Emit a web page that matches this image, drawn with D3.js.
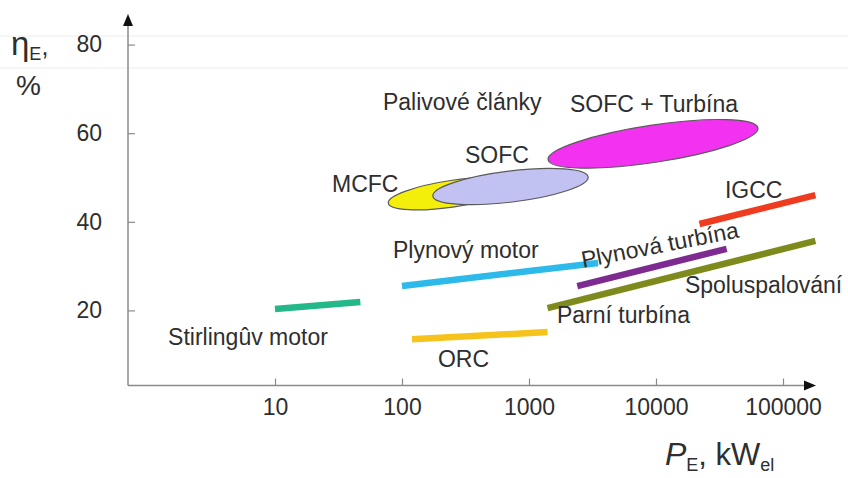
<!DOCTYPE html>
<html><head><meta charset="utf-8">
<script src="https://cdn.jsdelivr.net/npm/d3@7"></script>
<style>
body{margin:0;background:#fff;}
text{font-family:"Liberation Sans",Arial,sans-serif;fill:#2e2e2e;}
</style>
</head><body>
<svg id="c" width="848" height="478"></svg>
<script>
// ---- data ----
const xTicks = [10, 100, 1000, 10000, 100000];
const yTicks = [20, 40, 60, 80];

const lineNames  = ["Stirlingûv motor", "Plynový motor", "ORC", "Plynová turbína", "Parní turbína", "IGCC"];
const lineX0     = [10, 100, 120, 2400, 1400, 22000];
const lineX1     = [47, 3500, 1400, 36000, 180000, 180000];
const lineY0     = [20.3, 25.5, 13.5, 25.5, 20.5, 39.5];
const lineY1     = [21.9, 30.7, 15.1, 33.9, 35.7, 46.0];
const lineColors = ["#22b889", "#2db9ea", "#f6c21c", "#7d2b90", "#7f8a1c", "#ef3b20"];

const cellNames  = ["SOFC + Turbína", "MCFC", "SOFC"];
const cellXMin   = [1413, 78, 175];
const cellXMax   = [63500, 800, 2920];
const cellYLeft  = [54.0, 44.2, 45.8];
const cellYRight = [61.2, 48.5, 50.1];
const cellThick  = [8.4, 6.0, 7.0];
const cellColors = ["#f232f0", "#f4ef0a", "#c2c2f2"];

const labelText = ["Palivové články", "SOFC + Turbína", "SOFC", "MCFC", "IGCC", "Plynová turbína",
                   "Plynový motor", "Spoluspalování", "Parní turbína", "Stirlingûv motor", "ORC"];
const labelX    = [70.8, 2100, 313, 28.1, 34900, 2660, 84.9, 16900, 1660, 1.44, 192];
const labelY    = [65.2, 64.8, 53.3, 46.7, 45.4, 29.6, 31.8, 23.9, 17.2, 12.2, 7.2];
const labelRot  = [0, 0, 0, 0, 0, -11, 0, 0, 0, 0, 0];

// ---- layout ----
const svg = d3.select("#c");
const axisX0 = 128, axisY0 = 385.5;
const x = d3.scaleLog().domain([10, 100000]).range([275, 783]);
const y = d3.scaleLinear().domain([20, 80]).range([310.4, 44.6]);
const FS = 23;

// faint scan lines
[36, 68].forEach(v => svg.append("line").attr("x1", 0).attr("x2", 848).attr("y1", v).attr("y2", v)
  .attr("stroke", "#ececec").attr("stroke-width", 1));

// axes lines with arrows
const axisColor = "#8a8a8a";
svg.append("line").attr("x1", axisX0).attr("x2", axisX0).attr("y1", axisY0).attr("y2", 22)
  .attr("stroke", axisColor).attr("stroke-width", 1.5);
svg.append("path").attr("d", `M${axisX0},14 L${axisX0-5},26 L${axisX0+5},26 Z`).attr("fill", "#111");
svg.append("line").attr("x1", axisX0).attr("x2", 808).attr("y1", axisY0).attr("y2", axisY0)
  .attr("stroke", axisColor).attr("stroke-width", 1.5);
svg.append("path").attr("d", `M816,${axisY0} L804,${axisY0-5} L804,${axisY0+5} Z`).attr("fill", "#111");

// x axis ticks/labels
const gx = svg.append("g").attr("transform", `translate(0,${axisY0})`)
  .call(d3.axisBottom(x).tickValues(xTicks).tickFormat(d3.format("d")).tickSizeInner(-7).tickSizeOuter(0).tickPadding(13));
gx.select(".domain").remove();
gx.selectAll(".tick line").attr("stroke", axisColor).attr("stroke-width", 1.2);
gx.selectAll(".tick text").attr("font-size", FS).attr("fill", "#2e2e2e")
  .style("font-family", '"Liberation Sans",Arial,sans-serif');

// y axis ticks/labels
const gy = svg.append("g").attr("transform", `translate(${axisX0},0)`)
  .call(d3.axisLeft(y).tickValues(yTicks).tickSizeInner(-7).tickSizeOuter(0).tickPadding(26));
gy.select(".domain").remove();
gy.selectAll(".tick line").attr("stroke", axisColor).attr("stroke-width", 1.2);
gy.selectAll(".tick text").attr("font-size", FS).attr("fill", "#2e2e2e")
  .style("font-family", '"Liberation Sans",Arial,sans-serif');

// fuel cell ellipses
const cells = cellNames.map((n, i) => {
  const xl = x(cellXMin[i]), yl = y(cellYLeft[i]), xr = x(cellXMax[i]), yr = y(cellYRight[i]);
  const cx = (xl + xr) / 2, cy = (yl + yr) / 2;
  const rx = Math.hypot(xr - xl, yr - yl) / 2;
  const ang = Math.atan2(yr - yl, xr - xl) * 180 / Math.PI;
  const ry = Math.abs(y(0) - y(cellThick[i])) / 2;
  return {n, cx, cy, rx, ry, ang, color: cellColors[i]};
});
svg.append("g").selectAll("ellipse").data(cells).join("ellipse")
  .attr("cx", 0).attr("cy", 0).attr("rx", d => d.rx).attr("ry", d => d.ry)
  .attr("transform", d => `translate(${d.cx},${d.cy}) rotate(${d.ang})`)
  .attr("fill", d => d.color).attr("stroke", "#5a5a5a").attr("stroke-width", 1.2);

// technology lines
const lines = lineNames.map((n, i) => ({n, x0: lineX0[i], x1: lineX1[i], y0: lineY0[i], y1: lineY1[i], c: lineColors[i]}));
svg.append("g").selectAll("line").data(lines).join("line")
  .attr("x1", d => x(d.x0)).attr("y1", d => y(d.y0))
  .attr("x2", d => x(d.x1)).attr("y2", d => y(d.y1))
  .attr("stroke", d => d.c).attr("stroke-width", 6.5);

// labels
svg.append("g").selectAll("text").data(labelText).join("text")
  .attr("transform", (d, i) => `translate(${x(labelX[i])},${y(labelY[i])}) rotate(${labelRot[i]})`)
  .attr("font-size", FS).text(d => d);

// axis titles
const yt = svg.append("text").attr("x", 11).attr("y", 55);
yt.append("tspan").attr("font-size", 33).text("η");
yt.append("tspan").attr("font-size", 18).attr("dy", 5).text("E");
yt.append("tspan").attr("font-size", 25).attr("dy", -5).text(",");
svg.append("text").attr("x", 16).attr("y", 95).attr("font-size", 28).text("%");

const xt = svg.append("text").attr("x", 665).attr("y", 465);
xt.append("tspan").attr("font-size", 32).attr("font-style", "italic").text("P");
xt.append("tspan").attr("font-size", 18).attr("dy", 6).text("E");
xt.append("tspan").attr("font-size", 31).attr("dy", -6).text(", kW");
xt.append("tspan").attr("font-size", 18).attr("dy", 6).text("el");
</script>
</body></html>
